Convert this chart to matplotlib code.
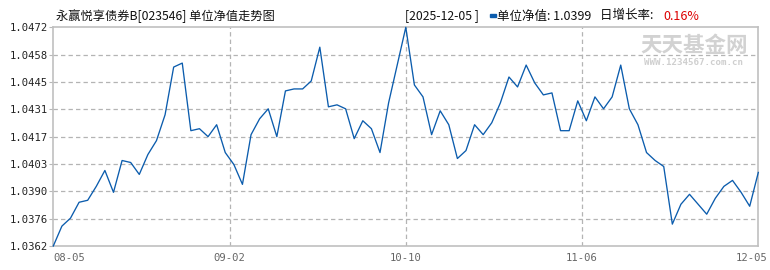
import numpy as np
import matplotlib
matplotlib.use("Agg")
import matplotlib.pyplot as plt
from matplotlib.patches import Rectangle
import matplotlib.transforms as mtransforms

# ---- data ----
nav_values = [
    1.0362, 1.0372, 1.0376, 1.0384, 1.0385, 1.0392, 1.0400, 1.0389, 1.0405, 1.0404,
    1.0398, 1.0408, 1.0415, 1.0428, 1.0452, 1.0454, 1.0420, 1.0421, 1.0417, 1.0423,
    1.0409, 1.0403, 1.0393, 1.0418, 1.0426, 1.0431, 1.0417, 1.0440, 1.0441, 1.0441,
    1.0445, 1.0462, 1.0432, 1.0433, 1.0431, 1.0416, 1.0425, 1.0421, 1.0409, 1.0434,
    1.0453, 1.0472, 1.0443, 1.0437, 1.0418, 1.0430, 1.0423, 1.0406, 1.0410, 1.0423,
    1.0418, 1.0424, 1.0434, 1.0447, 1.0442, 1.0453, 1.0444, 1.0438, 1.0439, 1.0420,
    1.0420, 1.0435, 1.0425, 1.0437, 1.0431, 1.0437, 1.0453, 1.0431, 1.0423, 1.0409,
    1.0405, 1.0402, 1.0373, 1.0383, 1.0388, 1.0383, 1.0378, 1.0386, 1.0392, 1.0395,
    1.0389, 1.0382, 1.0399,
]
x_labels = ["08-05", "09-02", "10-10", "11-06", "12-05"]
y_labels = ["1.0362", "1.0376", "1.0390", "1.0403", "1.0417",
            "1.0431", "1.0445", "1.0458", "1.0472"]
title_text = "永赢悦享债券B[023546] 单位净值走势图"
latest_date = "[2025-12-05 ]"
latest_nav = "1.0399"
daily_growth = "0.16%"

W, H = 770, 270
fig = plt.figure(figsize=(W / 100, H / 100), dpi=100)
fig.patch.set_facecolor("white")

def fx(px):
    return px / W

def fy(py):
    return 1 - py / H

left, right, top, bottom = 53.3, 758.3, 27.3, 246.0
ax = fig.add_axes([fx(left), fy(bottom), fx(right) - fx(left), fy(top) - fy(bottom)])

n = len(nav_values)
xs = np.arange(n)
ymin, ymax = min(nav_values), max(nav_values)

ax.plot(xs, nav_values, color="#0b5cad", lw=0.95, clip_on=False, zorder=3)
ax.set_xlim(0, n - 1)
ax.set_ylim(ymin, ymax)

# y ticks
yt = np.linspace(ymin, ymax, len(y_labels))
ax.set_yticks(yt)
ax.set_yticklabels(y_labels, family="DejaVu Sans Mono", fontsize=7.6, color="#222222")
ax.tick_params(axis="y", length=3, width=0.8, color="#b8b8b8", pad=1)

# x ticks
xt = np.linspace(0, n - 1, len(x_labels))
ax.set_xticks(xt)
ax.set_xticklabels(x_labels, family="DejaVu Sans Mono", fontsize=7.6, color="#666666")
ax.tick_params(axis="x", length=0, pad=5)
xl = ax.get_xticklabels()
xl[0].set_ha("left")
xl[-1].set_transform(xl[-1].get_transform() + mtransforms.ScaledTranslation(-7 / 100, 0, fig.dpi_scale_trans))

# grid
for y in yt[1:-1]:
    ax.axhline(y, color="#b4b4b4", lw=0.9, ls=(0, (3.5, 2.5)), zorder=1)
for x in xt[1:-1]:
    ax.axvline(x, color="#b4b4b4", lw=0.9, ls=(0, (3.5, 2.5)), zorder=1)

for s in ax.spines.values():
    s.set_color("#c0c0c0")
    s.set_linewidth(1.2)

# watermark
ax.text(fx(694), fy(46), "天天基金网", transform=fig.transFigure, ha="center", va="center",
        fontsize=15.5, fontweight="bold", color="#d2d2d2",
        family=["Noto Sans CJK SC", "DejaVu Sans"], zorder=2)
ax.text(fx(694), fy(62.5), "WWW.1234567.com.cn", transform=fig.transFigure, ha="center",
        va="center", fontsize=6.6, fontweight="bold", color="#cfcfcf",
        family="DejaVu Sans Mono", zorder=2)

# header
cjk = ["Noto Sans CJK SC", "DejaVu Sans"]
fig.text(fx(56), fy(16), title_text, ha="left", va="center", fontsize=8.8, family=cjk, color="#111111")
fig.text(fx(405), fy(16), latest_date, ha="left", va="center", fontsize=8.8, family=cjk, color="#111111")
fig.patches.append(Rectangle((fx(490), fy(16.8)), fx(496) - fx(490), fy(14) - fy(16.8),
                             transform=fig.transFigure, color="#0b5cad", figure=fig))
fig.text(fx(497), fy(16), "单位净值: " + latest_nav, ha="left", va="center", fontsize=9,
         family=cjk, color="#111111")
fig.text(fx(600), fy(16), "日增长率: ", ha="left", va="center", fontsize=9, family=cjk, color="#111111")
fig.text(fx(663), fy(16), daily_growth, ha="left", va="center", fontsize=9, family=cjk, color="#dd0000")

fig.savefig("out.png", dpi=100)
